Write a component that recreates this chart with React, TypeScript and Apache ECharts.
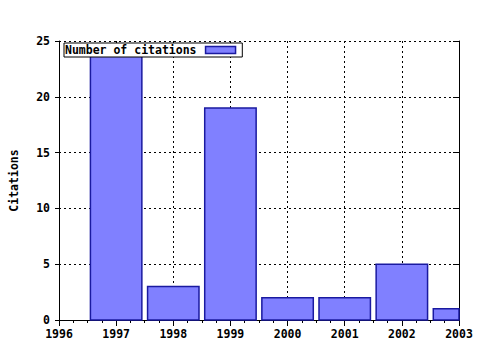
import React, { useEffect, useRef } from "react";
import * as echarts from "echarts";

const years = [1997, 1998, 1999, 2000, 2001, 2002, 2003];
const citations = [24, 3, 19, 2, 2, 5, 1];
const seriesName = "Number of citations";
const yAxisTitle = "Citations";
const barRelWidth = 0.9;

const FONT = "'DejaVu Sans Mono', monospace";
const BAR_FILL = "#8080ff";
const BAR_EDGE = "#1a1aa0";

export default function App() {
  const ref = useRef<HTMLDivElement>(null);
  useEffect(() => {
    if (!ref.current) return;
    const chart = echarts.init(ref.current, undefined, { renderer: "svg" });
    const tickIn = { inside: true, length: 6, lineStyle: { color: "#000" } };
    const tickOut = { inside: false, length: 4, lineStyle: { color: "#000" } };
    const minorIn = { show: true, splitNumber: 4, length: 3, lineStyle: { color: "#000" } };
    const minorOut = { show: true, splitNumber: 4, length: 2, lineStyle: { color: "#000" } };
    const labelFont = { fontFamily: FONT, fontWeight: "bold", fontSize: 11.5, color: "#000" };
    const gridLine = { show: true, lineStyle: { color: "#000", type: [2, 3], width: 1 } };
    chart.setOption({
      animation: false,
      backgroundColor: "#fff",
      grid: { left: 57, right: 21, top: 41, bottom: 30, containLabel: false },
      legend: {
        data: [{ name: seriesName, icon: "rect" }],
        left: 64,
        top: 43,
        orient: "horizontal",
        align: "right",
        borderColor: "#000",
        borderWidth: 1,
        borderRadius: 0,
        backgroundColor: "#fff",
        padding: [1, 6, 1, 1],
        itemWidth: 30,
        itemHeight: 7,
        itemStyle: { color: BAR_FILL, borderColor: BAR_EDGE, borderWidth: 1.5 },
        textStyle: { ...labelFont, padding: [0, 4, 0, 0] },
      },
      xAxis: [
        {
          type: "value",
          min: 1996,
          max: 2003,
          interval: 1,
          position: "bottom",
          axisLine: { show: true, lineStyle: { color: "#000", width: 1 } },
          axisTick: tickOut,
          minorTick: minorOut,
          axisLabel: { ...labelFont, margin: 8, formatter: (v: number) => String(v) },
          splitLine: gridLine,
        },
        {
          type: "value",
          min: 1996,
          max: 2003,
          interval: 1,
          position: "top",
          axisLine: { show: true, lineStyle: { color: "#000", width: 1 } },
          axisTick: tickIn,
          minorTick: minorIn,
          axisLabel: { show: false },
          splitLine: { show: false },
        },
      ],
      yAxis: [
        {
          type: "value",
          min: 0,
          max: 25,
          interval: 5,
          position: "left",
          name: yAxisTitle,
          nameLocation: "middle",
          nameGap: 39,
          nameRotate: 90,
          nameTextStyle: labelFont,
          axisLine: { show: true, lineStyle: { color: "#000", width: 1 } },
          axisTick: tickOut,
          axisLabel: { ...labelFont, margin: 9 },
          splitLine: gridLine,
        },
        {
          type: "value",
          min: 0,
          max: 25,
          interval: 5,
          position: "right",
          axisLine: { show: true, lineStyle: { color: "#000", width: 1 } },
          axisTick: tickIn,
          axisLabel: { show: false },
          splitLine: { show: false },
        },
      ],
      series: [
        {
          name: seriesName,
          type: "custom",
          xAxisIndex: 0,
          yAxisIndex: 0,
          data: years.map((y, i) => [y, citations[i]]),
          itemStyle: { color: BAR_FILL, borderColor: BAR_EDGE, borderWidth: 1.5 },
          encode: { x: 0, y: 1 },
          renderItem: (params: any, api: any) => {
            const x = api.value(0);
            const v = api.value(1);
            const p0 = api.coord([x - barRelWidth / 2, v]);
            const p1 = api.coord([x + barRelWidth / 2, 0]);
            const rect = { x: p0[0], y: p0[1], width: p1[0] - p0[0], height: p1[1] - p0[1] };
            const cs = params.coordSys;
            const clipped = echarts.graphic.clipRectByRect(rect, { x: cs.x, y: cs.y, width: cs.width, height: cs.height });
            if (!clipped) return null;
            return {
              type: "rect",
              shape: clipped,
              style: { fill: BAR_FILL, stroke: BAR_EDGE, lineWidth: 1.5 },
            };
          },
        },
      ],
    });
    return () => chart.dispose();
  }, []);
  return <div ref={ref} style={{ width: 480, height: 350, position: "absolute", left: 0, top: 0 }} />;
}
